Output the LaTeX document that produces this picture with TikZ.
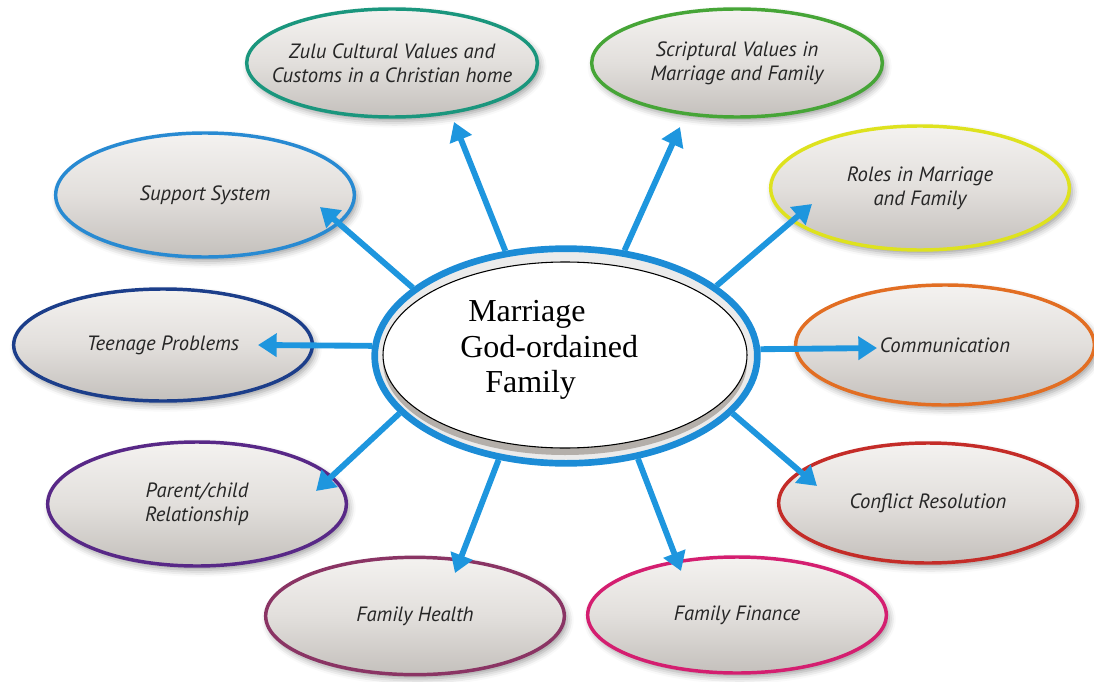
\documentclass[tikz,border=0pt]{standalone}
\usepackage{fontspec}
\setmainfont{Liberation Serif}
\newfontfamily\topicfont{PT Sans}
\usetikzlibrary{shapes.geometric}
\usetikzlibrary{arrows.meta}
\usetikzlibrary{shadows.blur}

\definecolor{ringblue}{RGB}{28,140,214}
\definecolor{linkblue}{RGB}{30,150,222}
\definecolor{topictop}{RGB}{244,242,240}
\definecolor{topicmid}{RGB}{226,223,220}
\definecolor{topicbot}{RGB}{196,192,188}
\definecolor{bandgray}{RGB}{180,175,170}
\definecolor{zulucol}{RGB}{26,150,125}
\definecolor{scripcol}{RGB}{70,165,55}
\definecolor{rolescol}{RGB}{222,226,30}
\definecolor{supportcol}{RGB}{40,138,210}
\definecolor{teencol}{RGB}{28,62,138}
\definecolor{commcol}{RGB}{226,110,35}
\definecolor{parentcol}{RGB}{88,40,135}
\definecolor{conflictcol}{RGB}{196,44,40}
\definecolor{healthcol}{RGB}{138,52,100}
\definecolor{financecol}{RGB}{212,30,112}

\tikzset{
	% outer topics: shaded ovals with a coloured rim
	topic node/.style={ellipse,line width=2.6pt,draw=#1,inner xsep=-30pt,inner ysep=-10pt,
		minimum width=224pt,minimum height=90pt,align=center,
		top color=topictop,bottom color=topicbot,middle color=topicmid,
		blur shadow={shadow xshift=2pt,shadow yshift=-3pt,shadow blur radius=5pt,shadow opacity=40},
		font=\topicfont\itshape\fontsize{15.5}{18}\selectfont,text=black!85},
	% centre: blue ring, grey rim and white disc
	hub ring/.style={ellipse,draw=ringblue,line width=5pt,fill=black!8,
		minimum width=287pt,minimum height=161pt},
	hub rim/.style={ellipse,fill=bandgray,minimum width=273pt,minimum height=139.5pt},
	hub disc/.style={ellipse,draw=black,line width=0.8pt,fill=white,
		minimum width=273pt,minimum height=139.5pt},
	link/.style={draw=linkblue,line width=4.4pt,-{Triangle[length=14pt,width=17pt]}}
}

\begin{document}
\begin{tikzpicture}[x=0.75pt,y=-0.75pt]
\useasboundingbox (0,0) rectangle (1094,681);

% top row
\node(zulu)[topic node=zulucol,minimum width=218pt,minimum height=81pt] at (392,63) {Zulu Cultural Values and\\Customs in a Christian home};
\node(scrip)[topic node=scripcol,minimum width=218pt,minimum height=81pt] at (737,63) {Scriptural Values in\\Marriage and Family};
% left side
\node(support)[topic node=supportcol,minimum height=93pt] at (205,195) {Support System};
\node(teen)[topic node=teencol,minimum height=84pt] at (163,345) {Teenage Problems};
\node(parent)[topic node=parentcol,minimum height=93pt] at (197,504) {Parent/child\\Relationship};
% right side
\node(roles)[topic node=rolescol,minimum height=93pt] at (920,188) {Roles in Marriage\\and Family};
\node(comm)[topic node=commcol] at (945,345) {Communication};
\node(conflict)[topic node=conflictcol] at (928,503) {Conflict Resolution};
% bottom row
\node(health)[topic node=healthcol,minimum height=88pt] at (415,616) {Family Health};
\node(finance)[topic node=financecol,minimum height=87pt] at (737,615) {Family Finance};

% blue ring round the middle
\node(hub)[hub ring] at (566,356) {};

% where each arrow stops
\coordinate (zulu tip) at (454,122);
\coordinate (scrip tip) at (680,127);
\coordinate (roles tip) at (812,204);
\coordinate (support tip) at (320,207);
\coordinate (teen tip) at (258,345);
\coordinate (comm tip) at (877,348);
\coordinate (parent tip) at (316,491);
\coordinate (conflict tip) at (817,486);
\coordinate (health tip) at (455,573);
\coordinate (finance tip) at (681,571);

% arrows out of the ring
\draw[link] (hub.120) -- (zulu tip);
\draw[link] (hub.61) -- (scrip tip);
\draw[link] (hub.25) -- (roles tip);
\draw[link] (hub.156) -- (support tip);
\draw[link] (hub.177) -- (teen tip);
\draw[link] (hub.2) -- (comm tip);
\draw[link] (hub.199) -- (parent tip);
\draw[link] (hub.341) -- (conflict tip);
\draw[link] (hub.237) -- (health tip);
\draw[link] (hub.305) -- (finance tip);

% white disc on its grey rim
\node(rim)[hub rim] at (565,362) {};
\node(disc)[hub disc] at (565,355) {};
\node(title)[anchor=west,align=left,inner sep=0pt,font=\fontsize{24}{26.6}\selectfont] at (460,350)
	{\hspace*{6pt}Marriage\\God-ordained\\\hspace*{18.75pt}Family};

\end{tikzpicture}
\end{document}
